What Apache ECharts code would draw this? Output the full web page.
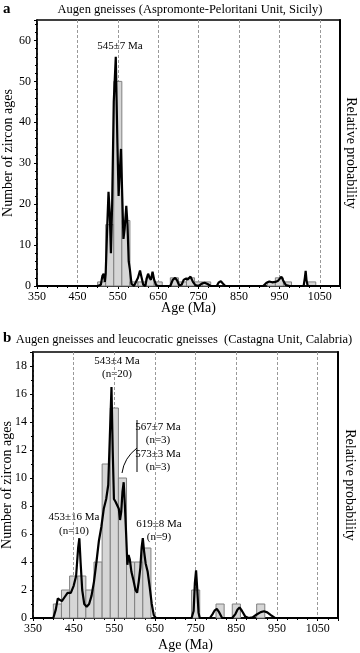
<!DOCTYPE html>
<html>
<head>
<meta charset="utf-8">
<script src="https://cdn.jsdelivr.net/npm/echarts@6/dist/echarts.min.js"></script>
<style>
  html, body { margin: 0; padding: 0; background: #fff; }
  #chart { width: 360px; height: 653px; }
</style>
</head>
<body>
<div id="chart"></div>
<script>
// panel a - Augen gneisses (Aspromonte-Peloritani Unit, Sicily)
var binsA = [500, 520, 540, 560, 580, 600, 620, 640, 680, 700, 720, 740, 760, 920, 940, 960, 1020];
var countsA = [1, 15, 50, 16, 1, 1, 2, 1, 2, 1, 2, 1, 1, 1, 2, 1, 1];
var ageA = [350, 500, 508, 512, 515, 518, 520, 524, 527, 530, 533, 536, 540, 545, 549, 552, 555, 558, 561, 564, 567, 571, 574, 577, 580, 584, 590, 600, 605, 609, 613, 618, 622, 625, 629, 632, 636, 640, 645, 650, 680, 686, 692, 697, 702, 708, 713, 718, 723, 730, 736, 742, 750, 758, 765, 772, 780, 795, 800, 805, 810, 816, 910, 918, 925, 932, 940, 947, 955, 960, 966, 975, 1010, 1013, 1015, 1017, 1020, 1100];
var probA = [0, 0, 0.3, 2.5, 3, 1, 3, 15, 23, 18, 8, 20, 45, 56, 35, 22, 28, 33.5, 22, 11.5, 14, 19.6, 15, 6, 4, 0.5, 0, 2, 3.8, 2, 0.3, 0, 2, 3, 2, 1.5, 3.5, 1.5, 0.2, 0, 0, 1.5, 2, 1.3, 0.2, 0.3, 1.5, 1.8, 1.6, 2.3, 1, 0.2, 0, 0.6, 0.8, 0.5, 0, 0, 0.9, 1.2, 0.6, 0, 0, 0.8, 1.1, 0.9, 1, 1.3, 2.3, 1.2, 0.2, 0, 0, 2, 3.7, 1.5, 0, 0];

// panel b - Augen gneisses and leucocratic gneisses (Castagna Unit, Calabria)
var binsB = [400, 420, 440, 460, 480, 500, 520, 540, 560, 580, 600, 620, 740, 800, 840, 900];
var countsB = [1, 2, 3, 3, 2, 4, 11, 15, 10, 4, 4, 5, 2, 1, 1, 1];
var ageB = [350, 400, 406, 411, 416, 421, 428, 435, 443, 450, 456, 461, 464, 467, 471, 476, 482, 488, 494, 500, 506, 512, 518, 524, 530, 535, 539, 543, 546, 549, 553, 557, 561, 564, 567, 570, 573, 576, 579, 582, 585, 588, 592, 597, 602, 606, 610, 614, 617, 620, 623, 627, 632, 637, 642, 647, 652, 740, 745, 748, 751, 754, 757, 760, 785, 792, 797, 802, 808, 815, 840, 848, 853, 858, 864, 872, 880, 890, 900, 910, 918, 926, 935, 945, 1100];
var probB = [0, 0, 0.6, 1.4, 1.3, 1.2, 1.5, 1.8, 1.8, 2.3, 3, 5, 5.7, 4, 2, 1, 0.8, 1, 1.6, 2.6, 4, 5.5, 6.5, 7.8, 8.5, 9.5, 13, 16.5, 12, 8.5, 8.3, 8.3, 7.8, 7, 7.6, 9, 9.7, 8, 6, 3.8, 4.5, 4.2, 3.3, 2.7, 2, 1.8, 2.6, 3.6, 5, 5.7, 4.8, 3.9, 3.3, 2.2, 1, 0.2, 0, 0, 0.5, 2.5, 3.4, 2, 0.4, 0, 0, 0.3, 0.55, 0.65, 0.4, 0, 0, 0.3, 0.6, 0.75, 0.5, 0.1, 0, 0.05, 0.25, 0.42, 0.48, 0.4, 0.2, 0, 0];

var binWidth = 20;
var xTicks = { min: 350, max: 1100, interval: 100 };

function binData(bins, counts) {
  return bins.map(function (b, i) { return [b, b + binWidth, counts[i]]; });
}
function curveData(ages, probs) {
  return ages.map(function (a, i) { return [a, probs[i]]; });
}

var serif = 'Liberation Serif';

function renderBar(params, api) {
  var top = api.coord([api.value(0), api.value(2)]);
  var bot = api.coord([api.value(1), 0]);
  return {
    type: 'rect',
    shape: { x: top[0], y: top[1], width: bot[0] - top[0], height: bot[1] - top[1] },
    style: { fill: '#d6d6d6', stroke: '#808080', lineWidth: 1 }
  };
}

function xAxisFor(gridIndex, gap) {
  return {
    type: 'value', gridIndex: gridIndex,
    min: xTicks.min, max: xTicks.max, interval: xTicks.interval,
    name: 'Age (Ma)', nameLocation: 'middle', nameGap: gap, nameMoveOverlap: false,
    nameTextStyle: { fontFamily: serif, fontSize: 14, color: '#000' },
    axisLine: { lineStyle: { color: '#000', width: 1.5 } },
    axisTick: { length: 3, lineStyle: { color: '#000' } },
    minorTick: { show: true, splitNumber: 4, length: 2, lineStyle: { color: '#000' } },
    axisLabel: {
      showMaxLabel: false, fontFamily: serif, fontSize: 12, color: '#000', margin: 5,
      formatter: function (v) { return String(v); }
    },
    splitLine: { show: true, lineStyle: { color: '#999', type: [3, 2], width: 1 } }
  };
}

function leftAxis(gridIndex, max, interval, minorSplit, gap) {
  return {
    type: 'value', gridIndex: gridIndex, min: 0, max: max, interval: interval,
    name: 'Number of zircon ages', nameLocation: 'middle', nameGap: gap, nameMoveOverlap: false,
    nameTextStyle: { fontFamily: serif, fontSize: 14, color: '#000' },
    axisLine: { show: true, lineStyle: { color: '#000', width: 1.5 } },
    axisTick: { length: 3, lineStyle: { color: '#000' } },
    minorTick: { show: true, splitNumber: minorSplit, length: 2, lineStyle: { color: '#000' } },
    axisLabel: { showMaxLabel: false, fontFamily: serif, fontSize: 12, color: '#000', margin: 6 },
    splitLine: { show: false }
  };
}

function rightAxis(gridIndex, max, gap) {
  return {
    type: 'value', gridIndex: gridIndex, position: 'right', min: 0, max: max,
    name: 'Relative probability', nameLocation: 'middle', nameRotate: -90, nameGap: gap,
    nameTextStyle: { fontFamily: serif, fontSize: 14, color: '#000' },
    axisLine: { show: true, lineStyle: { color: '#000', width: 2 } },
    axisTick: { show: false }, axisLabel: { show: false }, splitLine: { show: false }
  };
}

var note = '11px "Liberation Serif"';

var chart = echarts.init(document.getElementById('chart'));
chart.setOption({
  animation: false,
  backgroundColor: '#fff',
  grid: [
    { left: 37, right: 20, top: 20, height: 266, outerBoundsMode: 'none', show: true, borderColor: '#000', borderWidth: 1.5 },
    { left: 33, right: 22, top: 352, height: 266, outerBoundsMode: 'none', show: true, borderColor: '#000', borderWidth: 1.5 }
  ],
  xAxis: [xAxisFor(0, 15), xAxisFor(1, 20)],
  yAxis: [leftAxis(0, 65, 10, 5, 22), rightAxis(0, 65, 4), leftAxis(1, 19, 2, 2, 19), rightAxis(1, 19, 5)],
  series: [
    { type: 'custom', xAxisIndex: 0, yAxisIndex: 0, renderItem: renderBar,
      encode: { x: [0, 1], y: 2 }, data: binData(binsA, countsA), z: 2 },
    { type: 'line', xAxisIndex: 0, yAxisIndex: 0, data: curveData(ageA, probA),
      showSymbol: false, lineStyle: { color: '#000', width: 2.2 }, z: 3 },
    { type: 'custom', xAxisIndex: 1, yAxisIndex: 2, renderItem: renderBar,
      encode: { x: [0, 1], y: 2 }, data: binData(binsB, countsB), z: 2 },
    { type: 'line', xAxisIndex: 1, yAxisIndex: 2, data: curveData(ageB, probB),
      showSymbol: false, lineStyle: { color: '#000', width: 2.2 }, z: 3 }
  ],
  graphic: [
    { type: 'text', left: 3, top: 2, style: { text: 'a', font: 'bold 15px "Liberation Serif"', fill: '#000' } },
    { type: 'text', x: 190, y: 10, style: { text: 'Augen gneisses (Aspromonte-Peloritani Unit, Sicily)', font: '12.5px "Liberation Serif"', fill: '#000', align: 'center', verticalAlign: 'middle' } },
    { type: 'text', x: 120, y: 46, style: { text: '545±7 Ma', font: note, fill: '#000', align: 'center', verticalAlign: 'middle' } },

    { type: 'text', left: 3, top: 331, style: { text: 'b', font: 'bold 15px "Liberation Serif"', fill: '#000' } },
    { type: 'text', x: 184, y: 340, style: { text: 'Augen gneisses and leucocratic gneisses  (Castagna Unit, Calabria)', font: '12.5px "Liberation Serif"', fill: '#000', align: 'center', verticalAlign: 'middle' } },
    { type: 'text', x: 117, y: 368, style: { text: '543±4 Ma\n(n=20)', font: note, fill: '#000', align: 'center', verticalAlign: 'middle', lineHeight: 13 } },
    { type: 'text', x: 158, y: 447, style: { text: '567±7 Ma\n(n=3)\n573±3 Ma\n(n=3)', font: note, fill: '#000', align: 'center', verticalAlign: 'middle', lineHeight: 13.5 } },
    { type: 'line', shape: { x1: 137, y1: 420, x2: 137, y2: 472 }, style: { stroke: '#000', lineWidth: 1 } },
    { type: 'bezierCurve', shape: { x1: 122, y1: 473, cpx1: 124, cpy1: 458, x2: 137, y2: 448 }, style: { stroke: '#000', lineWidth: 1, fill: null } },
    { type: 'text', x: 74, y: 524, style: { text: '453±16 Ma\n(n=10)', font: note, fill: '#000', align: 'center', verticalAlign: 'middle', lineHeight: 14 } },
    { type: 'text', x: 159, y: 531, style: { text: '619±8 Ma\n(n=9)', font: note, fill: '#000', align: 'center', verticalAlign: 'middle', lineHeight: 13 } }
  ]
});
</script>
</body>
</html>
